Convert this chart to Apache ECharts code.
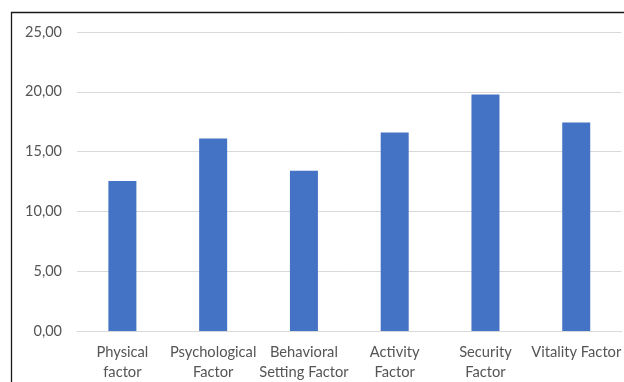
<!DOCTYPE html>
<html>
<head>
<meta charset="utf-8">
<script src="https://cdn.jsdelivr.net/npm/echarts@6/dist/echarts.min.js"></script>
<style>
html,body{margin:0;padding:0;background:#fff;}
#c{width:624px;height:382px;}
</style>
</head>
<body>
<div id="c"></div>
<script>
const categories = ['Physical\nfactor', 'Psychological\nFactor', 'Behavioral\nSetting Factor', 'Activity\nFactor', 'Security\nFactor', 'Vitality Factor'];
const values = [12.55, 16.1, 13.4, 16.6, 19.78, 17.43];
const yTicks = [0, 5, 10, 15, 20, 25];

const chart = echarts.init(document.getElementById('c'), null, {renderer: 'canvas'});
chart.setOption({
  animation: false,
  backgroundColor: '#fff',
  textStyle: {fontFamily: 'Lato'},
  graphic: [{
    type: 'rect',
    shape: {x: 11.5, y: 12.5, width: 800, height: 600},
    style: {fill: 'none', stroke: '#1a1a1a', lineWidth: 1.3},
    silent: true,
    z: 100
  }],
  grid: {left: 77, right: -1, top: 32, bottom: 51, containLabel: false},
  xAxis: {
    type: 'category',
    data: categories,
    axisLine: {show: true, lineStyle: {color: '#d9d9d9', width: 1}},
    axisTick: {show: false},
    axisLabel: {
      interval: 0,
      color: '#555555',
      fontSize: 14.7,
      fontFamily: 'Lato',
      lineHeight: 20,
      margin: 11
    }
  },
  yAxis: {
    type: 'value',
    min: yTicks[0],
    max: yTicks[yTicks.length - 1],
    interval: 5,
    axisLine: {show: false},
    axisTick: {show: false},
    splitLine: {lineStyle: {color: '#d9d9d9', width: 1}},
    axisLabel: {
      color: '#555555',
      fontSize: 14.5,
      fontFamily: 'Lato',
      margin: 15,
      formatter: v => v.toFixed(2).replace('.', ',')
    }
  },
  series: [{
    type: 'bar',
    data: values,
    barWidth: 28,
    itemStyle: {color: '#4472C4'}
  }]
});
</script>
</body>
</html>
